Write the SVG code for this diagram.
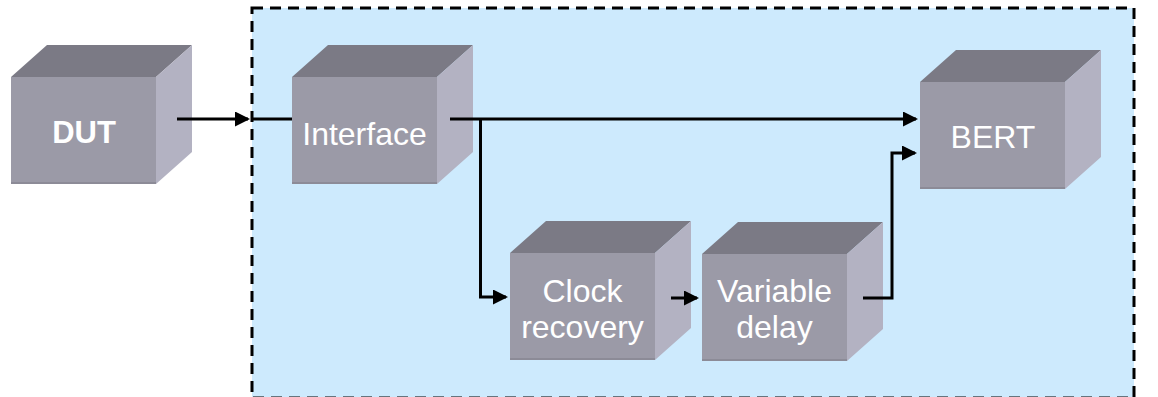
<svg xmlns="http://www.w3.org/2000/svg" xmlns:xlink="http://www.w3.org/1999/xlink" width="1158" height="397" viewBox="0 0 1158 397">
  <style>
    .front { fill: #9b9aa7; }
    .top { fill: #7b7a85; }
    .side { fill: #b3b2c2; }
    .edge { fill: none; stroke: #8c8b97; stroke-width: 2; }
    .lbl { font-family: "Liberation Sans", Arial, sans-serif; font-size: 32px; fill: #ffffff; text-anchor: middle; }
    .bold { font-weight: bold; font-size: 31px; }
    .conn { fill: none; stroke: #000000; stroke-width: 3; }
    .frame { fill: #cdeafd; stroke: #000000; stroke-width: 3; stroke-dasharray: 11 7; }
  </style>
  <defs>
    <marker id="arrow" markerUnits="userSpaceOnUse" markerWidth="16" markerHeight="16" refX="13" refY="7.5" orient="auto">
      <path d="M0,0 L15,7.5 L0,15 Z" fill="#000000"/>
    </marker>
    <g id="box">
      <polygon class="top" points="0,0 36,-32 181,-32 145,0"/>
      <polygon class="side" points="145,0 181,-32 181,75 145,107"/>
      <rect class="front" x="0" y="0" width="145" height="107"/>
      <line class="edge" x1="0" y1="106" x2="145" y2="106"/>
    </g>
  </defs>

  <rect class="frame" x="252" y="8" width="882" height="390"/>

  <g id="node-dut" transform="translate(11,77)">
    <use xlink:href="#box" href="#box"/>
    <text class="lbl bold" x="73" y="66">DUT</text>
  </g>

  <g id="node-interface" transform="translate(292,77)">
    <use xlink:href="#box" href="#box"/>
    <text class="lbl" x="72.5" y="68">Interface</text>
  </g>

  <g id="node-bert" transform="translate(920,82)">
    <use xlink:href="#box" href="#box"/>
    <text class="lbl" x="73" y="66">BERT</text>
  </g>

  <g id="node-clock" transform="translate(510,253)">
    <use xlink:href="#box" href="#box"/>
    <text class="lbl" x="72.5" y="49">Clock</text>
    <text class="lbl" x="72.5" y="85">recovery</text>
  </g>

  <g id="node-delay" transform="translate(702,254)">
    <use xlink:href="#box" href="#box"/>
    <text class="lbl" x="72.5" y="48">Variable</text>
    <text class="lbl" x="72.5" y="84">delay</text>
  </g>

  <g id="connectors">
    <path class="conn" d="M177,119 H248" marker-end="url(#arrow)"/>
    <path class="conn" d="M252,119 H292"/>
    <path class="conn" d="M450,119 H916" marker-end="url(#arrow)"/>
    <path class="conn" d="M480.5,119 V297 H506" marker-end="url(#arrow)"/>
    <path class="conn" d="M671,298 H697" marker-end="url(#arrow)"/>
    <path class="conn" d="M863,298 H892 V153 H915" marker-end="url(#arrow)"/>
  </g>
</svg>
